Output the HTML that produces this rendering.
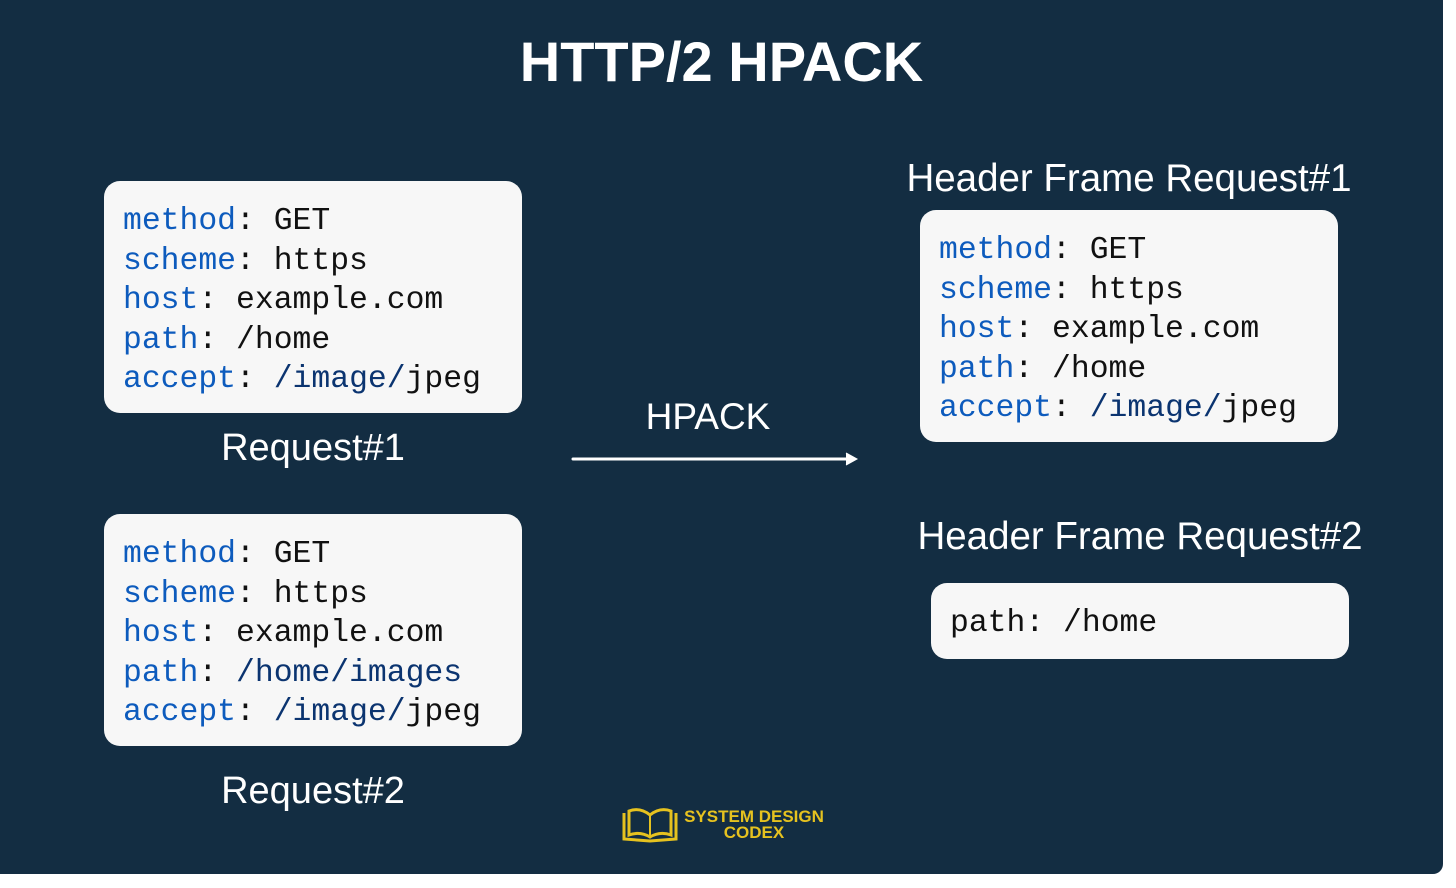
<!DOCTYPE html>
<html><head><meta charset="utf-8"><style>
*{margin:0;padding:0;box-sizing:border-box}
body{width:1456px;height:888px;background:#fff;position:relative;overflow:hidden;font-family:"Liberation Sans",sans-serif}
.bg{position:absolute;left:0;top:0;width:1443px;height:874px;background:#132d42;border-radius:0 0 10px 0}
.t{position:absolute;color:#fff;white-space:nowrap}
.box{position:absolute;background:#f7f7f7;border-radius:16px;font-family:"Liberation Mono",monospace;font-size:31.4px;line-height:39.5px;color:#111;padding-left:19px;white-space:pre}
.k{color:#0d5bbd}.v{color:#0b3470}
</style></head><body>
<div class="bg"></div>
<div class="t" style="left:0;width:1443px;text-align:center;top:29px;font-size:56px;font-weight:bold">HTTP/2 HPACK</div>

<div class="box" style="left:104px;top:181px;width:418px;height:232px;padding-top:21px"><span class="k">method</span>: GET
<span class="k">scheme</span>: https
<span class="k">host</span>: example.com
<span class="k">path</span>: /home
<span class="k">accept</span>: <span class="v">/image/</span>jpeg</div>
<div class="t" style="left:104px;width:418px;text-align:center;top:427px;font-size:38px">Request#1</div>

<div class="box" style="left:104px;top:514px;width:418px;height:232px;padding-top:21px"><span class="k">method</span>: GET
<span class="k">scheme</span>: https
<span class="k">host</span>: example.com
<span class="k">path</span>: <span class="v">/home/images</span>
<span class="k">accept</span>: <span class="v">/image/</span>jpeg</div>
<div class="t" style="left:104px;width:418px;text-align:center;top:770px;font-size:38px">Request#2</div>

<div class="t" style="left:565px;width:286px;text-align:center;top:396px;font-size:37px">HPACK</div>
<svg style="position:absolute;left:570px;top:450px" width="292" height="20">
<line x1="3" y1="9" x2="282" y2="9" stroke="#fff" stroke-width="3" stroke-linecap="round"/>
<path d="M276 3 L287 9 L276 15" fill="#fff" stroke="#fff" stroke-width="1"/>
</svg>

<div class="t" style="left:899px;width:460px;text-align:center;top:157px;font-size:38.5px">Header Frame Request#1</div>
<div class="box" style="left:920px;top:210px;width:418px;height:232px;padding-top:21px"><span class="k">method</span>: GET
<span class="k">scheme</span>: https
<span class="k">host</span>: example.com
<span class="k">path</span>: /home
<span class="k">accept</span>: <span class="v">/image/</span>jpeg</div>

<div class="t" style="left:910px;width:460px;text-align:center;top:515px;font-size:38.5px">Header Frame Request#2</div>
<div class="box" style="left:931px;top:583px;width:418px;height:76px;padding-top:21px">path: /home</div>

<svg style="position:absolute;left:620px;top:805px" width="60" height="40">
<path d="M4 8 L4 34 L30 36 L56 34 L56 8" fill="none" stroke="#e6c21f" stroke-width="3"/>
<path d="M9 6 Q20 2 30 10 Q40 2 51 6 L51 30 Q40 26 30 32 Q20 26 9 30 Z" fill="none" stroke="#e6c21f" stroke-width="3"/>
<line x1="30" y1="10" x2="30" y2="32" stroke="#e6c21f" stroke-width="2"/>
</svg>
<div class="t" style="left:683px;top:809px;font-size:17px;font-weight:bold;color:#e6c21f;line-height:16px;text-align:center;width:142px">SYSTEM DESIGN<br>CODEX</div>
</body></html>
